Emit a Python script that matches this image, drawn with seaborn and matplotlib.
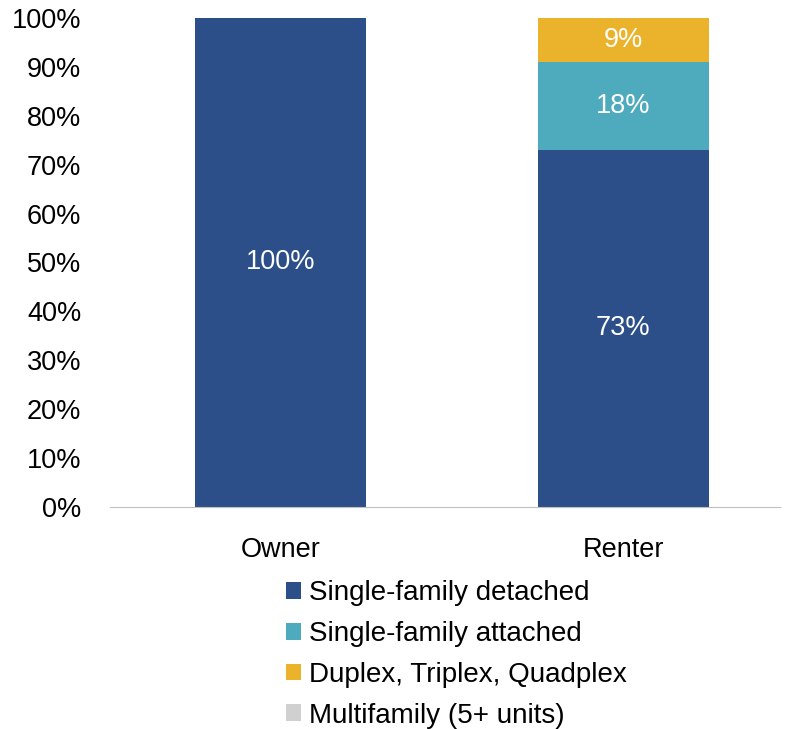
import numpy as np
import pandas as pd
import matplotlib.pyplot as plt
import seaborn as sns
from matplotlib.patches import Patch

# data
tenure = ["Owner", "Renter"]
types = ["Single-family detached", "Single-family attached",
         "Duplex, Triplex, Quadplex", "Multifamily (5+ units)"]
sf_detached = [100, 73]
sf_attached = [0, 18]
duplex = [0, 9]
multifamily = [0, 0]
colors = ["#2c4f8a", "#4eaabd", "#ebb32b", "#d0d0d0"]

sns.set_style("white")
plt.rcParams["font.family"] = ["Liberation Sans", "DejaVu Sans"]
plt.rcParams["text.color"] = "black"
plt.rcParams["xtick.color"] = "black"
plt.rcParams["ytick.color"] = "black"

series = [sf_detached, sf_attached, duplex, multifamily]
df = pd.DataFrame({"tenure": tenure})
for name, vals in zip(types, series):
    df[name] = vals

fig = plt.figure(figsize=(7.88, 7.29), dpi=100)
ax = fig.add_axes([0.14, 0.305, 0.85, 0.67])

# stacked bars: draw cumulative totals from top layer down
cum = df[types].cumsum(axis=1)
for name, col in reversed(list(zip(types, colors))):
    sns.barplot(x=df["tenure"], y=cum[name], color=col, width=0.5,
                ax=ax, saturation=1, edgecolor="none")

# labels in segments
for i in range(len(tenure)):
    base = 0
    for name in types:
        v = df[name][i]
        if v > 0:
            ax.text(i, base + v / 2, f"{v}%", ha="center", va="center",
                    color="white", fontsize=19.5)
        base += v

ax.set_ylim(0, 100)
ax.set_xlim(-0.496, 1.457)
ax.set_yticks(np.arange(0, 101, 10))
ax.set_yticklabels([f"{t}%" for t in range(0, 101, 10)], fontsize=19.5)
ax.tick_params(axis="x", labelsize=19.5, pad=22)
ax.tick_params(axis="y", pad=21)
ax.tick_params(length=0)
ax.set_xlabel("")
ax.set_ylabel("")
for s in ["top", "right", "left"]:
    ax.spines[s].set_visible(False)
ax.spines["bottom"].set_color("#bfbfbf")

handles = [Patch(facecolor=c, edgecolor="none") for c in colors]
fig.legend(handles, types, loc="upper center", bbox_to_anchor=(0.579, 0.238),
           frameon=False, fontsize=20, handlelength=0.55, handleheight=0.55,
           handletextpad=0.3, labelspacing=0.53)

fig.savefig("out.png", dpi=100)
